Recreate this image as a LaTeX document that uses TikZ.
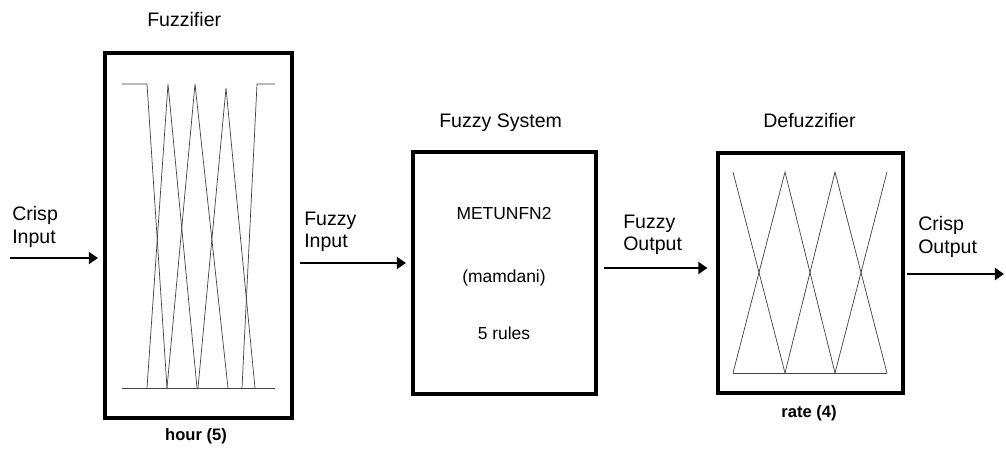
\documentclass[tikz,border=0pt]{standalone}
\usepackage{fontspec}
\setmainfont{Liberation Sans}
\usepackage{tikz}
\usetikzlibrary{arrows.meta}
\tikzstyle{block} = [draw, line width=2.8pt, inner sep=0pt, outer sep=0pt]
\tikzstyle{arrow} = [line width=2.1pt, -{Triangle[length=6.5pt,width=8.5pt]}]
\tikzstyle{mf} = [line width=0.5pt, black!75]
\tikzstyle{lab} = [inner sep=0pt, font=\fontsize{13.9}{15.8}\selectfont]
\tikzstyle{inlab} = [inner sep=0pt, anchor=base, font=\fontsize{12.4}{14}\selectfont]
\tikzstyle{varlab} = [inner sep=0pt, font=\fontsize{11.8}{13}\selectfont\bfseries]

\begin{document}
\begin{tikzpicture}[x=0.025cm,y=-0.025cm]
    \useasboundingbox (0,0) rectangle (1006,449);
    % blocks
    \node[block, minimum width=4.675cm, minimum height=9.125cm] (fuzzifier) at (198.5,235.5) {};
    \node[block, minimum width=4.575cm, minimum height=6.05cm] (system) at (504.5,273) {};
    \node[block, minimum width=4.625cm, minimum height=6cm] (defuzz) at (810.5,273) {};
    % titles
    \node[lab, anchor=base west] (fuzzifiertitle) at (147,26) {Fuzzifier};
    \node[lab, anchor=base west] (systemtitle) at (439,127) {Fuzzy System};
    \node[lab, anchor=base west] (defuzztitle) at (763,127) {Defuzzifier};
    \node[varlab] (hour) at (196,436) {hour (5)};
    \node[varlab] (rate) at (809,413) {rate (4)};
    % inside the fuzzy system
    \node[inlab] (sysname) at (504,219) {METUNFN2};
    \node[inlab] (systype) at (504,282) {(mamdani)};
    \node[inlab] (sysrules) at (504,339) {5 rules};
    % membership functions, hour (5)
    \draw[mf] (122,388) -- (275,388);
    \foreach \pts in {{(122,84) -- (147,84) -- (167,388)},
                      {(147,388) -- (168,84) -- (197,388)},
                      {(167,388) -- (195,84) -- (228,388)},
                      {(198,388) -- (226,88) -- (255,388)},
                      {(242,388) -- (257,84) -- (275,84)}}{
        \draw[mf] \pts;
    }
    % membership functions, rate (4)
    \draw[mf] (733,373) -- (887,373);
    \foreach \a/\b/\c in {733/785/835,785/835/887}{
        \draw[mf] (\a,373) -- (\b,172) -- (\c,373);
    }
    \draw[mf] (733,172) -- (785,373);
    \draw[mf] (835,373) -- (887,172);
    % signals
    \node[lab, anchor=west, align=left] (crispin) at (12,227) {Crisp\\Input};
    \node[lab, anchor=west, align=left] (fuzzyin) at (304,232) {Fuzzy\\Input};
    \node[lab, anchor=west, align=left] (fuzzyout) at (623,235) {Fuzzy\\Output};
    \node[lab, anchor=west, align=left] (crispout) at (918,237) {Crisp\\Output};
    \coordinate (cin) at (10,258);
    \coordinate (fin) at (0,263);
    \coordinate (fout) at (0,268);
    \coordinate (cout) at (1004,274);
    \draw[arrow, shorten >=5pt] (cin) -- (cin -| fuzzifier.west);
    \draw[arrow, shorten <=5.5pt, shorten >=5pt] (fuzzifier.east |- fin) -- (fin -| system.west);
    \draw[arrow, shorten <=5.5pt, shorten >=7.5pt] (system.east |- fout) -- (fout -| defuzz.west);
    \draw[arrow, shorten <=3pt] (defuzz.east |- cout) -- (cout);
\end{tikzpicture}
\end{document}
